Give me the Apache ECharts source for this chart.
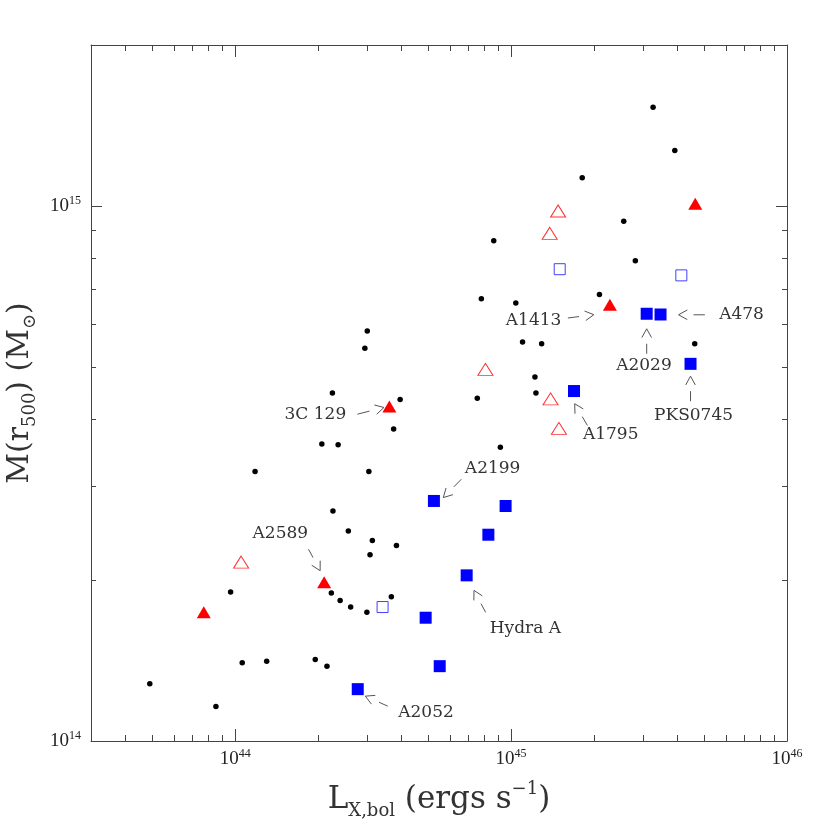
<!DOCTYPE html>
<html>
<head>
<meta charset="utf-8">
<script src="https://cdn.jsdelivr.net/npm/echarts@6.0.0/dist/echarts.min.js"></script>
<style>
  html, body { margin: 0; padding: 0; background: #fff; }
  #chart { width: 830px; height: 830px; }
</style>
</head>
<body>
<div id="chart"></div>
<script>
// L_X,bol (erg/s) vs M(r500) (Msun)
var dots = [
    [4.90e43, 1.28e14], [8.51e43, 1.16e14], [9.62e43, 1.90e14], [1.06e44, 1.40e14],
    [1.30e44, 1.41e14], [1.95e44, 1.42e14], [2.15e44, 1.38e14], [1.18e44, 3.19e14],
    [2.06e44, 3.59e14], [2.36e44, 3.58e14], [2.25e44, 4.47e14], [2.26e44, 2.69e14],
    [2.23e44, 1.89e14], [2.40e44, 1.83e14], [2.62e44, 1.78e14], [3.00e44, 1.74e14],
    [3.68e44, 1.86e14], [2.57e44, 2.47e14], [3.14e44, 2.37e14], [3.84e44, 2.32e14],
    [3.08e44, 2.23e14], [3.05e44, 3.19e14], [3.01e44, 5.84e14], [2.95e44, 5.42e14],
    [3.96e44, 4.35e14], [3.75e44, 3.83e14], [7.54e44, 4.37e14], [9.14e44, 3.54e14],
    [7.80e44, 6.71e14], [1.04e45, 6.59e14], [1.10e45, 5.57e14], [1.29e45, 5.53e14],
    [1.22e45, 4.79e14], [1.23e45, 4.47e14], [8.65e44, 8.61e14], [1.81e45, 1.13e15],
    [3.27e45, 1.53e15], [3.92e45, 1.27e15], [2.56e45, 9.37e14], [2.82e45, 7.90e14],
    [2.09e45, 6.83e14], [4.63e45, 5.53e14]
];
var redFilled = [[7.69e43, 1.74e14], [2.10e44, 1.98e14], [3.62e44, 4.22e14], [2.28e45, 6.54e14], [4.65e45, 1.01e15]];
var redOpen = [[1.05e44, 2.16e14], [8.07e44, 4.95e14], [1.39e45, 4.36e14], [1.49e45, 3.84e14], [1.48e45, 9.79e14], [1.38e45, 8.89e14]];
var blueFilled = [
    [2.78e44, 1.25e14], [5.51e44, 1.38e14], [4.90e44, 1.70e14], [6.90e44, 2.04e14],
    [5.25e44, 2.81e14], [8.27e44, 2.43e14], [9.55e44, 2.75e14], [1.69e45, 4.51e14],
    [3.10e45, 6.29e14], [3.48e45, 6.27e14], [4.47e45, 5.07e14]
];
var blueOpen = [[3.42e44, 1.78e14], [1.50e45, 7.62e14], [4.14e45, 7.42e14]];

var annotNames = ['3C 129', 'A2589', 'A2199', 'Hydra A', 'A2052', 'A1795', 'A1413', 'A2029', 'A478', 'PKS0745'];
var annotTargets = [redFilled[2], redFilled[1], blueFilled[4], blueFilled[3], blueFilled[0],
    blueFilled[7], redFilled[3], blueFilled[8], blueFilled[9], blueFilled[10]];

// 1e46 sits on the axis end, nudged inside so the label is not dropped
var xMajor = [1e44, 1e45, 0.9999e46];
var yMajor = [1e14, 1e15];
var xMinor = [4e43, 5e43, 6e43, 7e43, 8e43, 9e43,
    2e44, 3e44, 4e44, 5e44, 6e44, 7e44, 8e44, 9e44,
    2e45, 3e45, 4e45, 5e45, 6e45, 7e45, 8e45, 9e45];
var yMinor = [2e14, 3e14, 4e14, 5e14, 6e14, 7e14, 8e14, 9e14, 1.999e15];

// pixel offsets from the target point: label centre, arrow start, arrow tip
var annotLayout = [
    {label: [-74, 7.7], from: [-32, 7.7], to: [-5.4, 1]},
    {label: [-43.8, -48.3], from: [-15.6, -33], to: [-4, -11.6]},
    {label: [58.7, -32.7], from: [27.4, -21.7], to: [9.4, -3.4]},
    {label: [58.7, 53], from: [19, 37], to: [7.3, 15]},
    {label: [68.3, 23.6], from: [30, 17], to: [7.6, 7]},
    {label: [36.7, 43.7], from: [13.4, 34.4], to: [0.7, 12.7]},
    {label: [-76.3, 15.7], from: [-42, 13.3], to: [-16, 10]},
    {label: [-2.7, 52.3], from: [0, 40], to: [0, 15]},
    {label: [81, 0.3], from: [44.3, 0.3], to: [18, 0.3]},
    {label: [3, 52], from: [0, 37.3], to: [0, 12.3]}
];

var chart = echarts.init(document.getElementById('chart'));
var serif = 'DejaVu Serif';
var lineCol = '#444';

function powLabel(v) {
    return '{b|10}{s|' + Math.round(Math.log10(v)) + '}';
}
var tickRich = {
    b: {fontFamily: 'Liberation Serif', fontSize: 19, color: '#222', lineHeight: 22},
    s: {fontFamily: 'Liberation Serif', fontSize: 12, color: '#222', lineHeight: 13, verticalAlign: 'top'}
};

function axis(dim, grid, pos, values, len, opts) {
    var a = {
        type: 'log',
        gridIndex: grid,
        position: pos,
        min: dim === 'x' ? 3e43 : 1e14,
        max: dim === 'x' ? 1e46 : 2e15,
        axisLine: {show: grid === 0, lineStyle: {color: lineCol, width: 1}},
        axisTick: {show: true, inside: true, length: len, customValues: values, lineStyle: {color: lineCol, width: 1}},
        axisLabel: {show: false},
        splitLine: {show: false},
        minorTick: {show: false}
    };
    return Object.assign(a, opts || {});
}

var option = {
    animation: false,
    backgroundColor: '#fff',
    grid: [
        {left: 91, top: 45, width: 696, height: 696, outerBoundsMode: 'none', containLabel: false},
        {left: 91, top: 45, width: 696, height: 696, outerBoundsMode: 'none', containLabel: false}
    ],
    xAxis: [
        axis('x', 0, 'bottom', xMajor, 12, {
            axisLabel: {show: true, customValues: xMajor, margin: 7, formatter: powLabel, rich: tickRich},
            name: 'L{sub|X,bol} (ergs s{sup|−1})',
            nameLocation: 'middle',
            nameGap: 39,
            nameTextStyle: {
                fontFamily: serif, fontSize: 31, color: '#333', lineHeight: 40,
                rich: {
                    sub: {fontFamily: serif, fontSize: 18, color: '#333', lineHeight: 18, verticalAlign: 'bottom'},
                    sup: {fontFamily: serif, fontSize: 18, color: '#333', lineHeight: 18, verticalAlign: 'top'}
                }
            }
        }),
        axis('x', 0, 'top', xMajor, 12),
        axis('x', 1, 'bottom', xMinor, 6),
        axis('x', 1, 'top', xMinor, 6)
    ],
    yAxis: [
        axis('y', 0, 'left', yMajor, 11, {
            axisLabel: {show: true, customValues: yMajor, margin: 10, formatter: powLabel, rich: tickRich},
            name: 'M(r{sub|500}) (M{sub|⊙})',
            nameLocation: 'middle',
            nameRotate: 90,
            nameGap: 36,
            nameTextStyle: {
                fontFamily: serif, fontSize: 30, color: '#333', lineHeight: 38,
                rich: {
                    sub: {fontFamily: serif, fontSize: 18, color: '#333', lineHeight: 18, verticalAlign: 'bottom'}
                }
            }
        }),
        axis('y', 0, 'right', yMajor, 11),
        axis('y', 1, 'left', yMinor, 5),
        axis('y', 1, 'right', yMinor, 5)
    ],
    series: [
        {
            type: 'scatter', name: 'dots', data: dots,
            symbol: 'circle', symbolSize: 5.5,
            itemStyle: {color: '#000', opacity: 1}
        },
        {
            type: 'scatter', name: 'redOpen', data: redOpen,
            symbol: 'triangle', symbolSize: [15, 12],
            itemStyle: {color: 'rgba(0,0,0,0)', borderColor: '#ff3030', borderWidth: 1, opacity: 1}
        },
        {
            type: 'scatter', name: 'redFilled', data: redFilled,
            symbol: 'triangle', symbolSize: [14, 12],
            itemStyle: {color: '#ff0000', opacity: 1}
        },
        {
            type: 'scatter', name: 'blueOpen', data: blueOpen,
            symbol: 'rect', symbolSize: 11,
            itemStyle: {color: 'rgba(0,0,0,0)', borderColor: '#4040ff', borderWidth: 1, opacity: 1}
        },
        {
            type: 'scatter', name: 'blueFilled', data: blueFilled,
            symbol: 'rect', symbolSize: 12,
            itemStyle: {color: '#0000ff', opacity: 1}
        },
        {
            type: 'custom', name: 'notes', data: annotTargets,
            silent: true,
            renderItem: function (params, api) {
                var i = params.dataIndex;
                var p = api.coord([api.value(0), api.value(1)]);
                var o = annotLayout[i];
                var s = [p[0] + o.from[0], p[1] + o.from[1]];
                var t = [p[0] + o.to[0], p[1] + o.to[1]];
                var dx = t[0] - s[0], dy = t[1] - s[1];
                var len = Math.sqrt(dx * dx + dy * dy);
                var ux = dx / len, uy = dy / len;
                var e = [t[0] - ux * 15, t[1] - uy * 15];
                var head = 10, ang = 0.5;
                var bx = -ux, by = -uy;
                function arm(a) {
                    return [t[0] + head * (bx * Math.cos(a) - by * Math.sin(a)),
                            t[1] + head * (bx * Math.sin(a) + by * Math.cos(a))];
                }
                return {
                    type: 'group',
                    children: [
                        {type: 'line', shape: {x1: s[0], y1: s[1], x2: e[0], y2: e[1]},
                            style: {stroke: '#555', lineWidth: 1}},
                        {type: 'polyline', shape: {points: [arm(ang), t, arm(-ang)]},
                            style: {stroke: '#555', lineWidth: 1, fill: null}},
                        {type: 'text', x: p[0] + o.label[0], y: p[1] + o.label[1],
                            style: {text: annotNames[i], fill: '#333', font: '17px "DejaVu Serif"',
                                align: 'center', verticalAlign: 'middle'}}
                    ]
                };
            }
        }
    ]
};
chart.setOption(option);
</script>
</body>
</html>
